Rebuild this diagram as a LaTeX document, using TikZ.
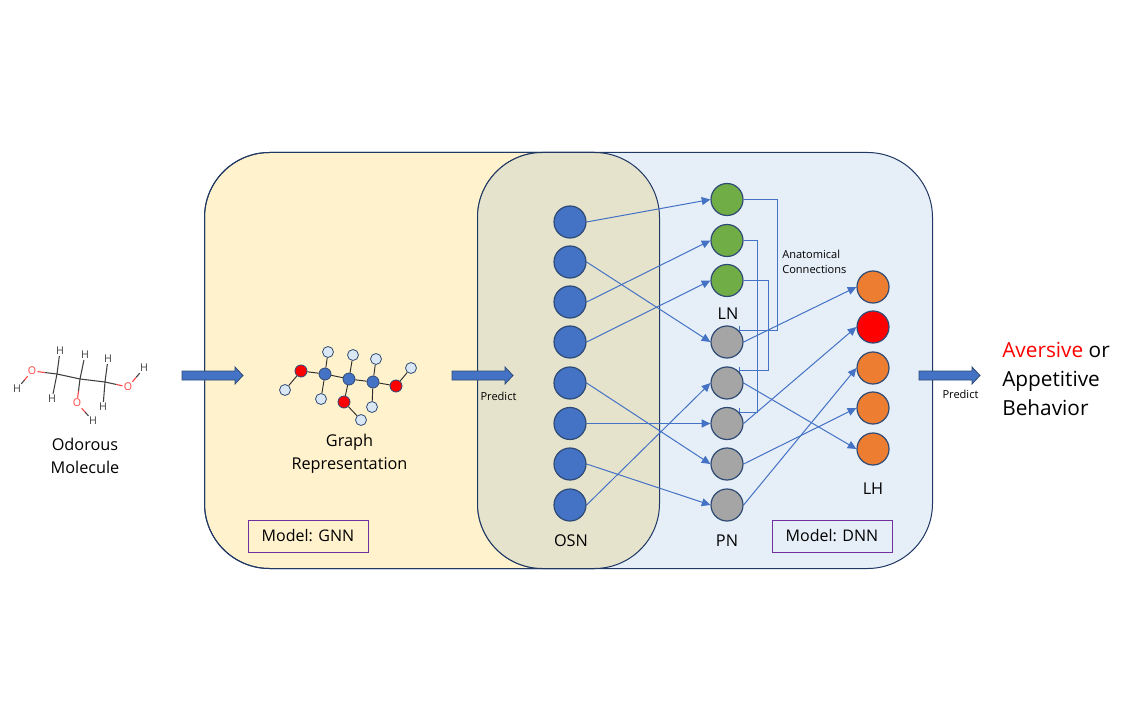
\documentclass[tikz,border=0pt]{standalone}
\usepackage{fontspec}
\setmainfont{Open Sans}
\usetikzlibrary{arrows.meta,calc}
\definecolor{yel}{HTML}{FFF2CC}
\definecolor{blu}{HTML}{E6EEF8}
\definecolor{ovl}{HTML}{E6E3CD}
\definecolor{edgeb}{HTML}{1F3864}
\definecolor{nblue}{HTML}{4472C4}
\definecolor{ngreen}{HTML}{70AD47}
\definecolor{ngray}{HTML}{A5A5A5}
\definecolor{norange}{HTML}{ED7D31}
\definecolor{nborder}{HTML}{2F4B75}
\definecolor{lnk}{HTML}{4472C4}
\definecolor{purp}{HTML}{7030A0}
\definecolor{atomw}{HTML}{DAE8F6}
\definecolor{skel}{HTML}{404040}
\definecolor{oxy}{HTML}{FF4040}
\pgfdeclarelayer{under}
\pgfsetlayers{under,main}
\tikzset{
 x=0.75pt,y=-0.75pt,
 neuron/.style={circle,draw=nborder,line width=0.9pt,minimum size=32*0.75pt,inner sep=0pt},
 osn/.style={neuron,fill=nblue},
 ln/.style={neuron,fill=ngreen},
 pn/.style={neuron,fill=ngray},
 lh/.style={neuron,fill=norange},
 lhred/.style={neuron,fill=red},
 lnkarrow/.style={lnk,line width=0.75pt,-{Triangle[length=6.5pt,width=6pt]}},
 elbow/.style={lnk,line width=0.75pt,-{Bar[width=6pt,line width=0.75pt]}},
 panel/.style={draw=edgeb,line width=0.75pt,rounded corners=65*0.75pt},
 txt/.style={font=\fontsize{12.2pt}{17.25pt}\selectfont,text=black,align=center,inner sep=0pt},
 small/.style={font=\fontsize{8.3pt}{11.25pt}\selectfont,text=black,align=left,inner sep=0pt},
 modelbox/.style={draw=purp,line width=0.75pt,minimum width=120*0.75pt,minimum height=32*0.75pt,inner sep=0pt,font=\fontsize{12pt}{15pt}\selectfont},
 blockarrow/.style={fill=nblue,draw=nborder,line width=0.6pt},
 atomc/.style={circle,draw=nborder,line width=0.6pt,fill=nblue,minimum size=12*0.75pt,inner sep=0pt},
 atomo/.style={circle,draw=nborder,line width=0.6pt,fill=red,minimum size=12*0.75pt,inner sep=0pt},
 atomh/.style={circle,draw=nborder,line width=0.6pt,fill=atomw,minimum size=11*0.75pt,inner sep=0pt},
 bond/.style={draw=skel!70!black,line width=0.7pt},
 skelatom/.style={inner sep=0.8pt,font=\fontsize{8pt}{9pt}\selectfont},
 skelbond/.style={skel,line width=0.8pt},
 oxybond/.style={oxy,line width=0.8pt},
}
\newcommand{\blockarr}[2]{%
 \filldraw[blockarrow] (#1,#2-4.5) -- (#1+53,#2-4.5) -- (#1+53,#2-8.5) -- (#1+61,#2) -- (#1+53,#2+8.5) -- (#1+53,#2+4.5) -- (#1,#2+4.5) -- cycle;}
\begin{document}
\begin{tikzpicture}
\useasboundingbox (0,0) rectangle (1128,720);
% neurons
\foreach \n/\y in {1/222,2/262,3/302,4/342,5/383,6/423.5,7/464,8/505}
  \node[osn] (o\n) at (570,\y) {};
\foreach \n/\y in {1/199.5,2/240.5,3/280.5}
  \node[ln] (l\n) at (727,\y) {};
\foreach \n/\y in {1/342,2/383,3/423.5,4/464,5/505}
  \node[pn] (p\n) at (727,\y) {};
\foreach \n/\y/\s in {1/287/lh,2/327/lhred,3/368/lh,4/408/lh,5/449/lh}
  \node[\s] (h\n) at (873,\y) {};
\begin{pgfonlayer}{under}
\fill[white] (0,0) rectangle (1128,720);
% panels
\filldraw[panel,fill=yel] (204.5,152.5) rectangle (659.5,568.5);
\filldraw[panel,fill=blu] (477.5,152.5) rectangle (932.5,568.5);
\begin{scope}
\clip[rounded corners=65*0.75pt] (204.5,152.5) rectangle (659.5,568.5);
\filldraw[panel,fill=ovl] (477.5,152.5) rectangle (932.5,568.5);
\end{scope}
\draw[panel] (204.5,152.5) rectangle (659.5,568.5);
% block arrows
\blockarr{182}{375.5}
\blockarr{452}{375.5}
\blockarr{919}{375.5}
% connectors
\foreach \a/\b in {o1/l1,o2/p1,o3/l2,o4/l3,o5/p4,o6/p3,o7/p5,o8/p2,p1/h1,p2/h5,p3/h2,p4/h4,p5/h3}
  \draw[lnkarrow] (\a.east) -- (\b.west);
\coordinate (e1) at (777.5,199.5);
\coordinate (e1b) at (777.5,330.5);
\coordinate (e2) at (757,240.5);
\coordinate (e2b) at (757,412);
\coordinate (e3) at (768.5,280.5);
\coordinate (e3b) at (768.5,370.5);
\draw[elbow] (l1.east) -- (e1) -- (e1b) -- (e1b -| p1.north east);
\draw[elbow] (l2.east) -- (e2) -- (e2b) -- (e2b -| p3.north east);
\draw[elbow] (l3.east) -- (e3) -- (e3b) -- (e3b -| p2.north east);
\end{pgfonlayer}
% labels
\node[txt] (tmol) at (85,455.5) {Odorous\\Molecule};
\node[txt] (tgraph) at (349.5,454) {Graph\\Representation};
\node[txt] (tosn) at (571,541) {OSN};
\node[txt] (tpn) at (727,541) {PN};
\node[txt] (tln) at (728,314) {LN};
\node[txt] (tlh) at (873,489) {LH};
\node[small] (tp1) at (498.5,396) {Predict};
\node[small] (tp2) at (960.5,394) {Predict};
\node[small,anchor=west] (tana) at (782,262) {Anatomical\\Connections};
\node[modelbox] (mg) at (308,536) {Model: GNN};
\node[modelbox] (md) at (832,536) {Model: DNN};
\node[txt,anchor=west,font=\fontsize{15.6pt}{22pt}\selectfont,align=left] (tout) at (1002,379) {\textcolor{red}{Aversive} or\\Appetitive\\Behavior};
% graph
\node[atomo] (go1) at (301,371) {};
\node[atomc] (gc1) at (325,374) {};
\node[atomc] (gc2) at (349,379) {};
\node[atomc] (gc3) at (373,382) {};
\node[atomo] (go3) at (396,386) {};
\node[atomo] (go2) at (344,402) {};
\node[atomh] (gh1) at (285,390) {};
\node[atomh] (gh2) at (328,352) {};
\node[atomh] (gh3) at (321,399) {};
\node[atomh] (gh4) at (353,355) {};
\node[atomh] (gh5) at (376,359) {};
\node[atomh] (gh6) at (372,407) {};
\node[atomh] (gh7) at (361,420) {};
\node[atomh] (gh8) at (411,368) {};
\foreach \a/\b in {gh1/go1,go1/gc1,gc1/gc2,gc2/gc3,gc3/go3,go3/gh8,gc1/gh2,gc1/gh3,gc2/gh4,gc2/go2,go2/gh7,gc3/gh5,gc3/gh6}
  \draw[bond] (\a) -- (\b);
% molecule
\node[skelatom,text=oxy] (mo1) at (32,371) {O};
\node[skelatom,text=oxy] (mo2) at (77,403) {O};
\node[skelatom,text=oxy] (mo3) at (128,387) {O};
\node[skelatom,text=skel] (mh1) at (17,389) {H};
\node[skelatom,text=skel] (mh2) at (60,351) {H};
\node[skelatom,text=skel] (mh3) at (52,399) {H};
\node[skelatom,text=skel] (mh4) at (85,355) {H};
\node[skelatom,text=skel] (mh5) at (108,359) {H};
\node[skelatom,text=skel] (mh6) at (103,407) {H};
\node[skelatom,text=skel] (mh7) at (93,421) {H};
\node[skelatom,text=skel] (mh8) at (144,368) {H};
\coordinate (mc1) at (57,374);
\coordinate (mc2) at (80,379);
\coordinate (mc3) at (105,382);
\draw[skelbond] (mc1) -- (mc2) -- (mc3);
\foreach \a/\b in {mc1/mh2,mc1/mh3,mc2/mh4,mc3/mh5,mc3/mh6}
  \draw[skelbond] (\a) -- (\b);
\foreach \c/\o in {mc1/mo1,mc2/mo2,mc3/mo3}{
  \draw[skelbond] (\c) -- ($(\c)!0.5!(\o)$);
  \draw[oxybond] ($(\c)!0.5!(\o)$) -- (\o);
}
\foreach \h/\o in {mh1/mo1,mh7/mo2,mh8/mo3}{
  \draw[skelbond] (\h) -- ($(\h)!0.5!(\o)$);
  \draw[oxybond] ($(\h)!0.5!(\o)$) -- (\o);
}
\end{tikzpicture}
\end{document}
